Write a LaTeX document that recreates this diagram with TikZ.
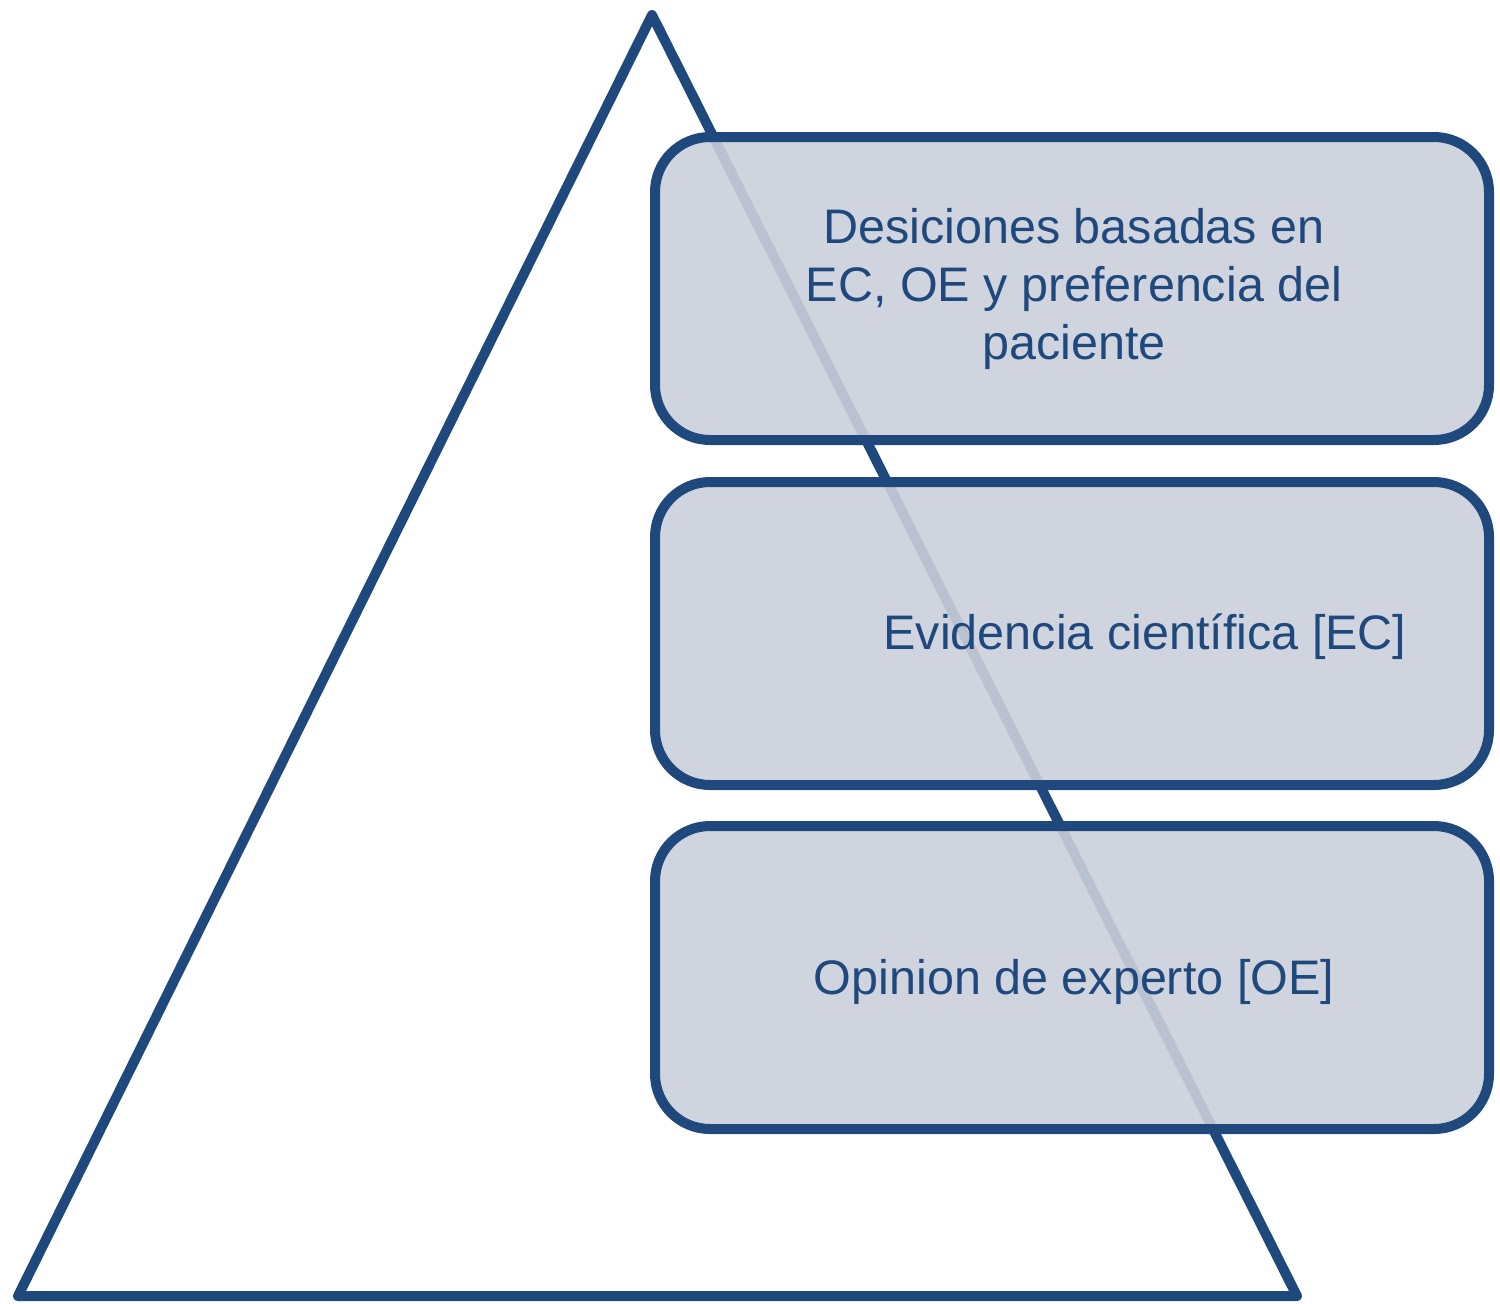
\documentclass[tikz,border=0pt]{standalone}
\usepackage{fontspec}
\setmainfont{Liberation Sans}
\definecolor{navy}{RGB}{31,73,125}
\definecolor{boxfill}{RGB}{203,207,218}
\begin{document}
\begin{tikzpicture}[x=1pt,y=-1pt,
  tri/.style={draw=navy,line width=10pt,line join=round},
  lvl/.style={draw=navy,line width=10pt,fill=boxfill,fill opacity=0.9,rounded corners=55pt},
  lbl/.style={text=navy,font=\fontsize{48.5}{58}\selectfont,align=center,inner sep=0pt}]
\useasboundingbox (0,0) rectangle (1500,1304);
\draw[tri] (652,15) -- (1297,1296) -- (18,1296) -- cycle;
\draw[lvl] (655,137) rectangle (1489,440);
\draw[lvl] (655,482) rectangle (1489,785);
\draw[lvl] (655,826) rectangle (1489,1129);
\node[lbl] (t1) at (1074,289) {Desiciones basadas en\\EC, OE y preferencia del\\paciente};
\node[lbl] (t2) at (1145,637) {Evidencia científica [EC]};
\node[lbl] (t3) at (1074,982) {Opinion de experto [OE]};
\end{tikzpicture}
\end{document}
